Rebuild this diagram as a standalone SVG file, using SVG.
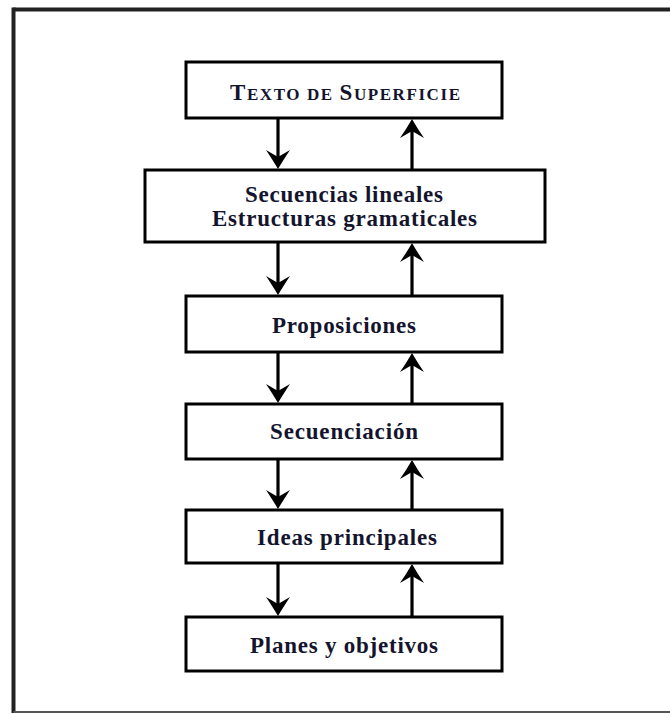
<svg xmlns="http://www.w3.org/2000/svg" width="670" height="713" viewBox="0 0 670 713">
<style>
.box{fill:#fff;stroke:#000;stroke-width:3}
.lbl{font-family:"Liberation Serif","Times New Roman",serif;font-weight:bold;font-size:23px;fill:#14142e;text-anchor:middle}
.sm{font-size:17px}
.shaft{stroke:#000;stroke-width:3.2;fill:none}
.head{fill:#000}
.frame{stroke:#222;stroke-width:4;fill:none}
</style>
<defs>
<path id="hd" d="M0,0 C-4,-7 -8,-13 -12,-19 L0,-12 L12,-19 C8,-13 4,-7 0,0 Z"/>
<path id="hu" d="M0,0 C-4,7 -8,13 -12,19 L0,12 L12,19 C8,13 4,7 0,0 Z"/>
</defs>
<rect width="670" height="713" fill="#fff"/>
<g id="frame">
<line class="frame" x1="13.5" y1="9.5" x2="670" y2="9.5"/>
<line class="frame" x1="13.5" y1="7.5" x2="13.5" y2="713"/>
<line x1="13.5" y1="712" x2="670" y2="712" stroke="#555" stroke-width="2"/>
</g>
<g id="connectors">
<line class="shaft" x1="278" y1="118" x2="278" y2="160"/><use href="#hd" class="head" x="278" y="169"/>
<line class="shaft" x1="412" y1="170" x2="412" y2="128"/><use href="#hu" class="head" x="412" y="119"/>
<line class="shaft" x1="278" y1="242" x2="278" y2="286"/><use href="#hd" class="head" x="278" y="295"/>
<line class="shaft" x1="412" y1="296" x2="412" y2="252"/><use href="#hu" class="head" x="412" y="243"/>
<line class="shaft" x1="278" y1="352" x2="278" y2="394"/><use href="#hd" class="head" x="278" y="403"/>
<line class="shaft" x1="412" y1="404" x2="412" y2="362"/><use href="#hu" class="head" x="412" y="353"/>
<line class="shaft" x1="278" y1="459" x2="278" y2="500"/><use href="#hd" class="head" x="278" y="509"/>
<line class="shaft" x1="412" y1="510" x2="412" y2="469"/><use href="#hu" class="head" x="412" y="460"/>
<line class="shaft" x1="278" y1="563" x2="278" y2="607"/><use href="#hd" class="head" x="278" y="616"/>
<line class="shaft" x1="412" y1="617" x2="412" y2="573"/><use href="#hu" class="head" x="412" y="564"/>
</g>
<g id="n1"><rect class="box" x="186" y="62" width="316" height="56"/>
<text class="lbl" x="345" y="100" textLength="230" lengthAdjust="spacing"><tspan>T</tspan><tspan class="sm">EXTO DE </tspan><tspan>S</tspan><tspan class="sm">UPERFICIE</tspan></text></g>
<g id="n2"><rect class="box" x="145" y="170" width="400" height="72"/>
<text class="lbl" x="344" y="202" textLength="198" lengthAdjust="spacing">Secuencias lineales</text>
<text class="lbl" x="344.5" y="226" textLength="265" lengthAdjust="spacing">Estructuras gramaticales</text></g>
<g id="n3"><rect class="box" x="186" y="296" width="316" height="56"/>
<text class="lbl" x="344" y="333" textLength="144" lengthAdjust="spacing">Proposiciones</text></g>
<g id="n4"><rect class="box" x="186" y="404" width="316" height="55"/>
<text class="lbl" x="344" y="439" textLength="148" lengthAdjust="spacing">Secuenciación</text></g>
<g id="n5"><rect class="box" x="186" y="510" width="316" height="53"/>
<text class="lbl" x="347" y="545" textLength="180" lengthAdjust="spacing">Ideas principales</text></g>
<g id="n6"><rect class="box" x="186" y="617" width="316" height="54"/>
<text class="lbl" x="344" y="653" textLength="188" lengthAdjust="spacing">Planes y objetivos</text></g>
</svg>
